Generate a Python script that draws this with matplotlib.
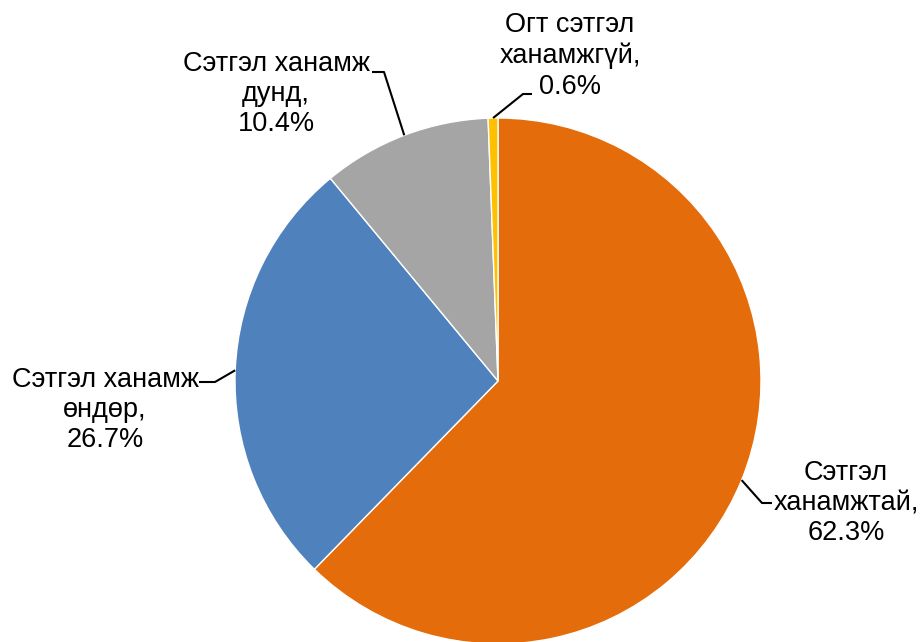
import numpy as np
import matplotlib
matplotlib.use("Agg")
import matplotlib.pyplot as plt

# slice data, clockwise from 12 o'clock
labels = ["Сэтгэл\nханамжтай,", "Сэтгэл ханамж\nөндөр,", "Сэтгэл ханамж\nдунд,", "Огт сэтгэл\nханамжгүй,"]
shares = [62.3, 26.7, 10.4, 0.6]
colors = ["#E46C0A", "#4F81BD", "#A5A5A5", "#FFC000"]

W, H = 922, 642
CX, CY, R = 498, 381, 263   # pie centre / radius in pixels (y from top)

# label block centre (px, y from top) and knee of the leader line
label_pos = [(846, 503), (105, 410), (276, 94), (570, 56)]
knee_pos = [((772, 503), (762, 503)), ((199, 382), (215, 382)),
            ((372, 72), (384, 72)), ((532, 94), (523, 94))]

plt.rcParams["font.family"] = ["Liberation Sans", "DejaVu Sans"]

fig = plt.figure(figsize=(W / 100, H / 100), dpi=100)
ax = fig.add_axes([0, 0, 1, 1])

wedges, _ = ax.pie(shares, colors=colors, startangle=90, counterclock=False,
                   center=(CX, H - CY), radius=R,
                   wedgeprops=dict(edgecolor="white", linewidth=1))
ax.set_xlim(0, W)
ax.set_ylim(0, H)
ax.set_aspect("auto")
ax.axis("off")

for w, lab, val, (lx, ly), (k1, k2) in zip(wedges, labels, shares, label_pos, knee_pos):
    mid = np.deg2rad((w.theta1 + w.theta2) / 2)
    ax_x = CX + R * np.cos(mid)
    ax_y = (H - CY) + R * np.sin(mid)
    ax.plot([k1[0], k2[0], ax_x], [H - k1[1], H - k2[1], ax_y],
            color="black", lw=1.5, solid_capstyle="butt")
    ax.text(lx, H - ly, f"{lab}\n{val:.1f}%", ha="center", va="center",
            fontsize=19.5, linespacing=1.22, color="black")

fig.savefig("out.png", dpi=100)
